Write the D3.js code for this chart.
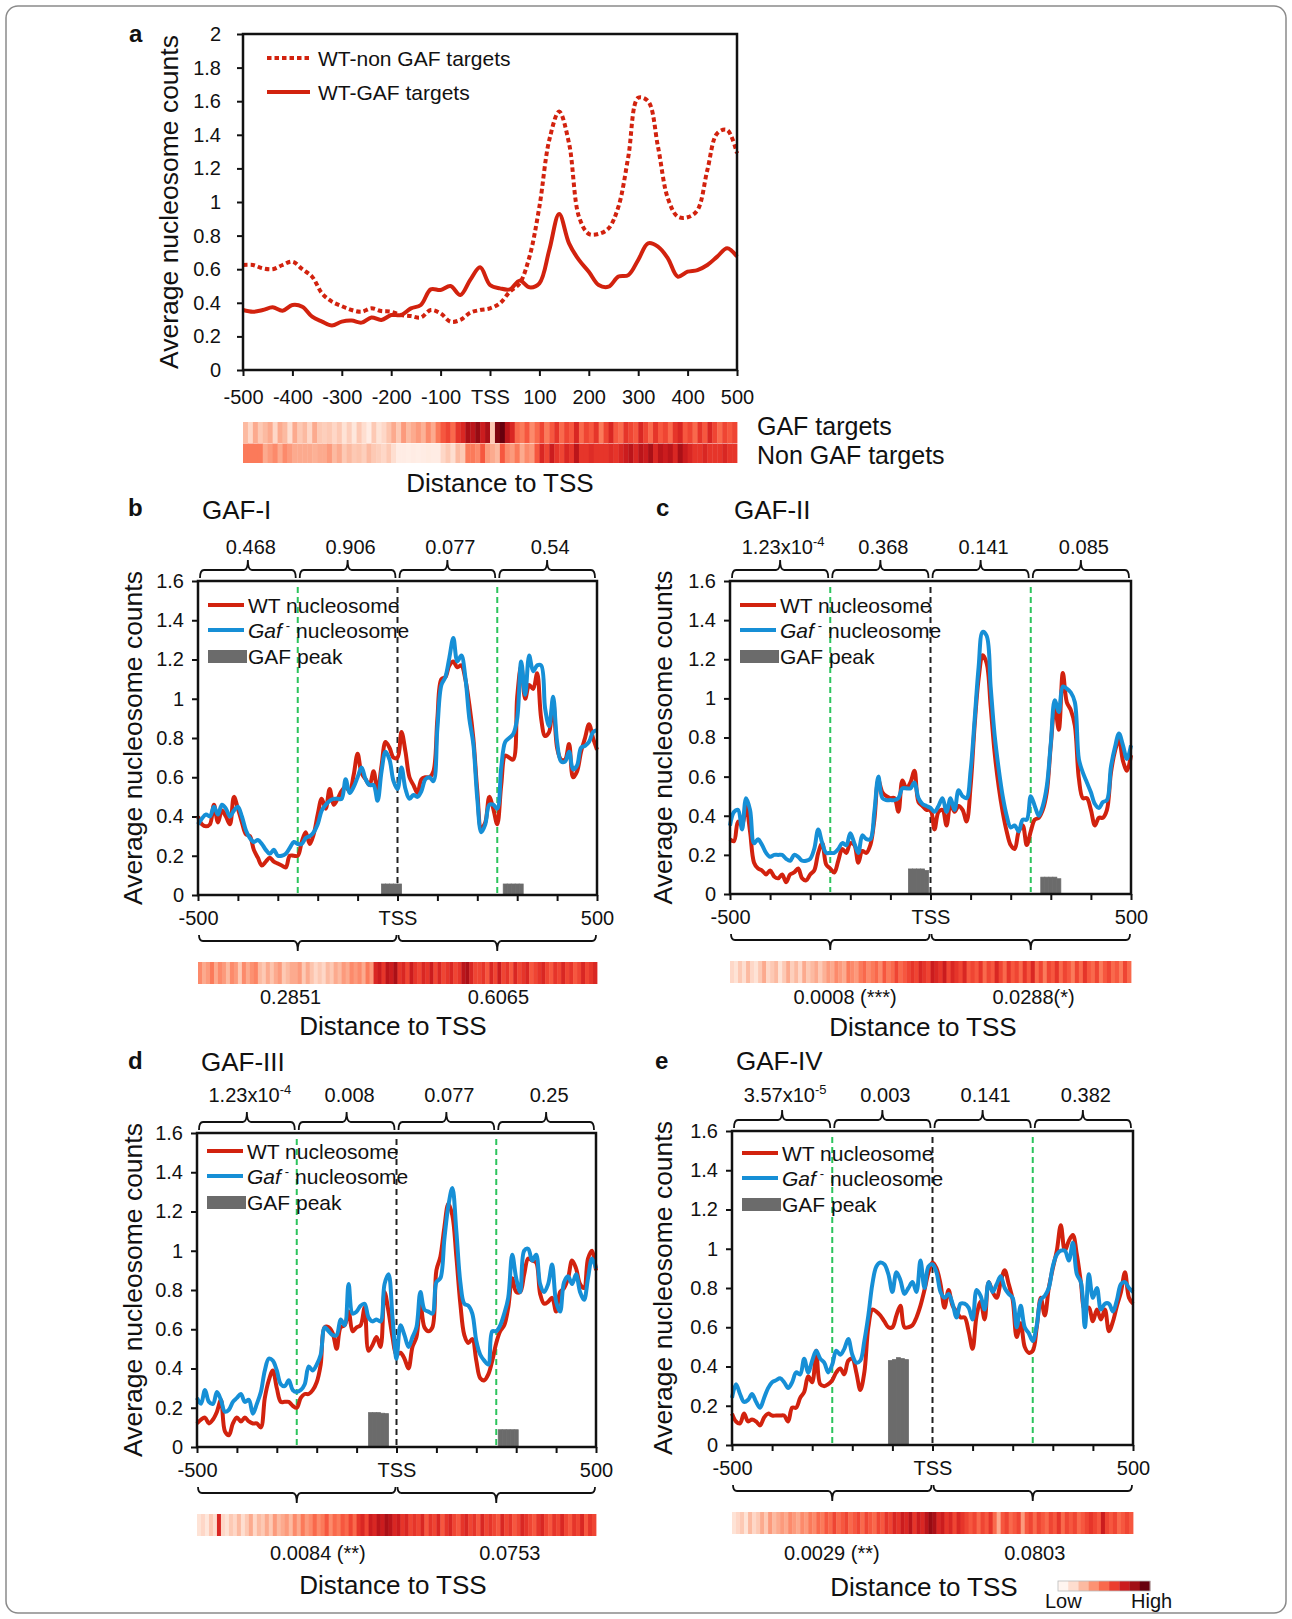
<!DOCTYPE html>
<html>
<head>
<meta charset="utf-8">
<script src="https://cdn.jsdelivr.net/npm/d3@7"></script>
<style>
  body { margin: 0; background: #fff; }
  svg { display: block; font-family: "Liberation Sans", Arial, sans-serif; }
</style>
</head>
<body>
<svg id="fig" width="1292" height="1619"></svg>
<script>
// ---- data ----
const xs20 = d3.range(-500, 501, 20)
const xs10 = d3.range(-500, 501, 10)

// panel a: average nucleosome counts, step 20 bp
const aNonGaf = [0.625, 0.625, 0.605, 0.60, 0.625, 0.645, 0.60, 0.555, 0.456, 0.407, 0.38, 0.357, 0.347, 0.367, 0.351, 0.347, 0.327, 0.321, 0.313, 0.357, 0.337, 0.288, 0.298, 0.341, 0.357, 0.367, 0.397, 0.466, 0.516, 0.675, 0.972, 1.369, 1.538, 1.349, 0.913, 0.81, 0.81, 0.843, 0.972, 1.27, 1.62, 1.60, 1.33, 1.022, 0.913, 0.909, 0.952, 1.19, 1.409, 1.429, 1.29]
const aGaf = [0.357, 0.347, 0.357, 0.373, 0.353, 0.387, 0.377, 0.317, 0.288, 0.265, 0.288, 0.294, 0.282, 0.313, 0.298, 0.327, 0.327, 0.367, 0.387, 0.48, 0.476, 0.50, 0.446, 0.536, 0.611, 0.506, 0.486, 0.48, 0.532, 0.492, 0.516, 0.714, 0.929, 0.754, 0.655, 0.585, 0.506, 0.496, 0.556, 0.565, 0.655, 0.754, 0.734, 0.665, 0.556, 0.585, 0.595, 0.625, 0.675, 0.724, 0.675]
const aStripGaf = [0.25, 0.15, 0.3, 0.2, 0.25, 0.3, 0.15, 0.3, 0.25, 0.12, 0.3, 0.2, 0.25, 0.15, 0.3, 0.2, 0.18, 0.2, 0.15, 0.2, 0.1, 0.18, 0.08, 0.2, 0.12, 0.05, 0.2, 0.1, 0.15, 0.22, 0.3, 0.2, 0.35, 0.25, 0.3, 0.35, 0.28, 0.4, 0.3, 0.45, 0.55, 0.6, 0.5, 0.65, 0.7, 0.85, 0.8, 0.9, 0.75, 0.85, 0.2, 0.95, 1.0, 0.8, 0.7, 0.5, 0.45, 0.55, 0.4, 0.5, 0.6, 0.45, 0.55, 0.65, 0.5, 0.6, 0.55, 0.7, 0.5, 0.6, 0.55, 0.65, 0.45, 0.6, 0.7, 0.55, 0.5, 0.65, 0.6, 0.55, 0.7, 0.6, 0.5, 0.65, 0.55, 0.6, 0.5, 0.65, 0.7, 0.55, 0.6, 0.5, 0.65, 0.55, 0.7, 0.6, 0.5, 0.6, 0.55, 0.6]
const aStripNonGaf = [0.45, 0.45, 0.45, 0.45, 0.3, 0.35, 0.4, 0.3, 0.4, 0.35, 0.3, 0.3, 0.3, 0.3, 0.28, 0.3, 0.3, 0.35, 0.25, 0.3, 0.2, 0.25, 0.2, 0.22, 0.18, 0.25, 0.2, 0.18, 0.15, 0.2, 0.12, 0.05, 0.05, 0.04, 0.05, 0.04, 0.05, 0.06, 0.05, 0.05, 0.15, 0.2, 0.12, 0.25, 0.2, 0.45, 0.45, 0.4, 0.55, 0.35, 0.3, 0.25, 0.55, 0.4, 0.35, 0.45, 0.3, 0.4, 0.35, 0.55, 0.7, 0.6, 0.75, 0.65, 0.6, 0.7, 0.65, 0.8, 0.65, 0.65, 0.68, 0.65, 0.65, 0.65, 0.68, 0.65, 0.7, 0.75, 0.8, 0.7, 0.8, 0.75, 0.85, 0.7, 0.8, 0.75, 0.8, 0.7, 0.85, 0.75, 0.7, 0.65, 0.65, 0.7, 0.65, 0.65, 0.65, 0.7, 0.65, 0.65]

// panels b-e: WT and Gaf- nucleosome counts, step 10 bp
const bWT = [0.40, 0.36, 0.35, 0.36, 0.46, 0.37, 0.43, 0.40, 0.36, 0.50, 0.44, 0.37, 0.31, 0.30, 0.23, 0.19, 0.15, 0.17, 0.19, 0.17, 0.16, 0.15, 0.14, 0.20, 0.20, 0.20, 0.27, 0.32, 0.26, 0.31, 0.41, 0.49, 0.44, 0.54, 0.46, 0.49, 0.53, 0.55, 0.53, 0.61, 0.72, 0.62, 0.59, 0.56, 0.63, 0.53, 0.66, 0.78, 0.75, 0.70, 0.70, 0.83, 0.73, 0.60, 0.56, 0.52, 0.59, 0.60, 0.60, 0.63, 0.90, 1.10, 1.11, 1.17, 1.19, 1.16, 1.17, 1.10, 0.97, 0.80, 0.53, 0.34, 0.37, 0.50, 0.44, 0.36, 0.56, 0.71, 0.70, 0.69, 1.01, 1.17, 1.00, 1.07, 1.05, 1.13, 0.90, 0.81, 0.83, 0.99, 0.75, 0.69, 0.69, 0.77, 0.60, 0.63, 0.73, 0.80, 0.87, 0.80, 0.74]
const bGaf = [0.36, 0.39, 0.41, 0.40, 0.45, 0.41, 0.46, 0.44, 0.40, 0.43, 0.45, 0.40, 0.33, 0.29, 0.27, 0.28, 0.26, 0.23, 0.21, 0.23, 0.20, 0.20, 0.21, 0.24, 0.27, 0.26, 0.26, 0.29, 0.30, 0.32, 0.36, 0.43, 0.46, 0.48, 0.49, 0.49, 0.49, 0.59, 0.52, 0.55, 0.60, 0.65, 0.59, 0.56, 0.56, 0.48, 0.63, 0.73, 0.69, 0.58, 0.54, 0.65, 0.54, 0.49, 0.51, 0.50, 0.53, 0.59, 0.60, 0.58, 0.85, 1.07, 1.11, 1.21, 1.31, 1.19, 1.22, 1.11, 0.90, 0.77, 0.49, 0.32, 0.36, 0.46, 0.46, 0.44, 0.65, 0.78, 0.80, 0.82, 0.90, 1.19, 1.02, 1.22, 1.14, 1.17, 1.17, 0.95, 0.86, 1.01, 0.78, 0.68, 0.68, 0.73, 0.64, 0.66, 0.75, 0.76, 0.78, 0.83, 0.84]
const cWT = [0.28, 0.27, 0.37, 0.35, 0.45, 0.32, 0.16, 0.13, 0.12, 0.10, 0.12, 0.09, 0.08, 0.10, 0.06, 0.10, 0.11, 0.13, 0.08, 0.07, 0.10, 0.12, 0.21, 0.26, 0.15, 0.13, 0.11, 0.17, 0.23, 0.21, 0.26, 0.25, 0.16, 0.22, 0.21, 0.25, 0.38, 0.58, 0.52, 0.50, 0.49, 0.49, 0.42, 0.58, 0.54, 0.57, 0.63, 0.47, 0.45, 0.43, 0.43, 0.33, 0.42, 0.43, 0.35, 0.46, 0.42, 0.45, 0.43, 0.37, 0.55, 0.86, 1.10, 1.22, 1.18, 0.96, 0.72, 0.55, 0.42, 0.32, 0.25, 0.23, 0.32, 0.35, 0.25, 0.32, 0.38, 0.39, 0.43, 0.52, 0.76, 0.96, 0.84, 1.13, 0.98, 0.94, 0.86, 0.59, 0.49, 0.49, 0.43, 0.35, 0.39, 0.39, 0.43, 0.62, 0.73, 0.79, 0.68, 0.63, 0.71]
const cGaf = [0.35, 0.42, 0.43, 0.33, 0.49, 0.43, 0.26, 0.28, 0.25, 0.21, 0.19, 0.20, 0.20, 0.20, 0.18, 0.17, 0.20, 0.19, 0.17, 0.17, 0.18, 0.23, 0.33, 0.26, 0.21, 0.21, 0.21, 0.23, 0.26, 0.25, 0.31, 0.26, 0.21, 0.30, 0.28, 0.28, 0.42, 0.60, 0.49, 0.48, 0.48, 0.48, 0.49, 0.54, 0.54, 0.54, 0.57, 0.49, 0.46, 0.45, 0.44, 0.42, 0.45, 0.49, 0.42, 0.49, 0.43, 0.53, 0.50, 0.49, 0.63, 0.89, 1.16, 1.34, 1.32, 1.06, 0.81, 0.64, 0.50, 0.40, 0.34, 0.35, 0.32, 0.38, 0.38, 0.50, 0.45, 0.40, 0.45, 0.55, 0.77, 0.99, 0.93, 1.06, 1.05, 1.03, 0.98, 0.69, 0.62, 0.57, 0.52, 0.46, 0.44, 0.47, 0.48, 0.65, 0.75, 0.82, 0.76, 0.69, 0.76]
const dWT = [0.12, 0.14, 0.15, 0.12, 0.14, 0.18, 0.24, 0.08, 0.06, 0.12, 0.15, 0.13, 0.15, 0.13, 0.12, 0.12, 0.10, 0.25, 0.34, 0.39, 0.30, 0.23, 0.23, 0.23, 0.21, 0.20, 0.25, 0.27, 0.27, 0.29, 0.33, 0.42, 0.61, 0.61, 0.58, 0.50, 0.61, 0.62, 0.69, 0.59, 0.61, 0.62, 0.71, 0.49, 0.52, 0.56, 0.51, 0.79, 0.69, 0.56, 0.47, 0.48, 0.45, 0.40, 0.51, 0.56, 0.73, 0.61, 0.59, 0.61, 0.90, 0.97, 1.12, 1.24, 1.18, 0.97, 0.73, 0.57, 0.53, 0.55, 0.44, 0.35, 0.34, 0.37, 0.44, 0.53, 0.59, 0.62, 0.71, 0.86, 0.79, 0.79, 0.88, 0.96, 0.95, 0.94, 0.78, 0.73, 0.74, 0.76, 0.69, 0.79, 0.81, 0.86, 0.95, 0.91, 0.83, 0.81, 0.96, 1.00, 0.90]
const dGaf = [0.25, 0.22, 0.29, 0.23, 0.22, 0.28, 0.24, 0.18, 0.19, 0.23, 0.25, 0.27, 0.23, 0.24, 0.17, 0.22, 0.28, 0.39, 0.45, 0.44, 0.39, 0.32, 0.31, 0.34, 0.29, 0.28, 0.29, 0.32, 0.41, 0.39, 0.42, 0.47, 0.61, 0.59, 0.57, 0.57, 0.65, 0.62, 0.83, 0.68, 0.69, 0.72, 0.73, 0.66, 0.64, 0.65, 0.64, 0.83, 0.88, 0.66, 0.45, 0.62, 0.57, 0.51, 0.56, 0.61, 0.79, 0.70, 0.69, 0.68, 0.84, 0.86, 1.06, 1.23, 1.32, 1.10, 0.84, 0.73, 0.72, 0.68, 0.54, 0.47, 0.44, 0.42, 0.59, 0.59, 0.62, 0.68, 0.76, 0.98, 0.86, 0.79, 1.00, 1.01, 0.95, 0.98, 0.83, 0.79, 0.83, 0.93, 0.74, 0.69, 0.84, 0.87, 0.83, 0.88, 0.79, 0.75, 0.86, 0.96, 0.91]
const eWT = [0.16, 0.12, 0.11, 0.16, 0.12, 0.13, 0.12, 0.10, 0.14, 0.16, 0.15, 0.15, 0.15, 0.15, 0.12, 0.19, 0.19, 0.24, 0.27, 0.35, 0.32, 0.48, 0.31, 0.30, 0.31, 0.33, 0.37, 0.39, 0.36, 0.43, 0.44, 0.37, 0.28, 0.37, 0.60, 0.69, 0.68, 0.66, 0.63, 0.60, 0.60, 0.66, 0.71, 0.60, 0.60, 0.61, 0.65, 0.71, 0.79, 0.88, 0.93, 0.90, 0.82, 0.70, 0.79, 0.71, 0.68, 0.65, 0.65, 0.58, 0.49, 0.66, 0.73, 0.64, 0.83, 0.78, 0.75, 0.83, 0.89, 0.82, 0.74, 0.55, 0.62, 0.50, 0.47, 0.48, 0.60, 0.75, 0.66, 0.80, 0.90, 0.99, 1.12, 0.99, 1.04, 1.07, 0.97, 0.83, 0.69, 0.70, 0.63, 0.69, 0.64, 0.69, 0.58, 0.63, 0.71, 0.78, 0.88, 0.75, 0.72]
const eGaf = [0.24, 0.31, 0.26, 0.22, 0.23, 0.26, 0.22, 0.19, 0.24, 0.29, 0.32, 0.33, 0.34, 0.32, 0.29, 0.32, 0.37, 0.36, 0.44, 0.37, 0.43, 0.48, 0.44, 0.42, 0.37, 0.41, 0.48, 0.46, 0.49, 0.54, 0.46, 0.42, 0.43, 0.53, 0.66, 0.82, 0.91, 0.93, 0.92, 0.87, 0.78, 0.88, 0.84, 0.77, 0.80, 0.83, 0.78, 0.94, 0.80, 0.91, 0.92, 0.88, 0.78, 0.75, 0.77, 0.72, 0.65, 0.72, 0.72, 0.70, 0.64, 0.79, 0.76, 0.69, 0.83, 0.78, 0.82, 0.86, 0.80, 0.77, 0.75, 0.60, 0.71, 0.60, 0.57, 0.53, 0.61, 0.74, 0.76, 0.80, 0.91, 0.97, 0.99, 0.99, 0.94, 1.03, 0.87, 0.83, 0.60, 0.87, 0.75, 0.80, 0.69, 0.72, 0.72, 0.68, 0.74, 0.82, 0.83, 0.80, 0.78]

// GAF peak bins (10 bp wide, centre positions) and heights
const bPeakX = [-35, -25, -15, -5, 5, 270, 280, 290, 300, 310]
const bPeakH = [0.056, 0.056, 0.056, 0.056, 0.056, 0.056, 0.056, 0.056, 0.056, 0.056]
const cPeakX = [-50, -40, -30, -20, -10, 280, 290, 300, 310, 320]
const cPeakH = [0.128, 0.128, 0.128, 0.128, 0.12, 0.086, 0.086, 0.086, 0.086, 0.078]
const dPeakX = [-65, -55, -45, -35, -25, 260, 270, 280, 290, 300]
const dPeakH = [0.175, 0.175, 0.175, 0.172, 0.17, 0.088, 0.088, 0.088, 0.088, 0.088]
const ePeakX = [-105, -95, -85, -75, -65]
const ePeakH = [0.43, 0.435, 0.445, 0.44, 0.435]

// heat strips (relative intensity, 10 bp bins)
const bStrip = [0.4, 0.3, 0.35, 0.45, 0.3, 0.4, 0.35, 0.25, 0.4, 0.35, 0.2, 0.4, 0.3, 0.38, 0.42, 0.25, 0.2, 0.3, 0.22, 0.3, 0.35, 0.2, 0.25, 0.3, 0.3, 0.35, 0.2, 0.3, 0.22, 0.15, 0.2, 0.15, 0.25, 0.2, 0.3, 0.25, 0.35, 0.3, 0.4, 0.35, 0.4, 0.3, 0.45, 0.35, 0.7, 0.75, 0.65, 0.8, 0.75, 0.85, 0.65, 0.7, 0.6, 0.75, 0.65, 0.6, 0.7, 0.65, 0.75, 0.6, 0.7, 0.6, 0.65, 0.7, 0.6, 0.65, 0.8, 0.85, 0.7, 0.6, 0.6, 0.65, 0.55, 0.7, 0.6, 0.75, 0.6, 0.65, 0.55, 0.7, 0.6, 0.65, 0.7, 0.55, 0.6, 0.65, 0.7, 0.6, 0.55, 0.65, 0.6, 0.7, 0.6, 0.65, 0.55, 0.6, 0.7, 0.6, 0.65, 0.7]
const cStrip = [0.15, 0.1, 0.2, 0.12, 0.25, 0.15, 0.1, 0.2, 0.3, 0.15, 0.2, 0.25, 0.1, 0.2, 0.3, 0.18, 0.25, 0.15, 0.3, 0.2, 0.25, 0.3, 0.2, 0.28, 0.35, 0.3, 0.4, 0.35, 0.3, 0.45, 0.4, 0.35, 0.45, 0.5, 0.4, 0.45, 0.5, 0.4, 0.55, 0.45, 0.5, 0.6, 0.5, 0.55, 0.6, 0.65, 0.6, 0.7, 0.65, 0.6, 0.75, 0.7, 0.65, 0.75, 0.6, 0.7, 0.65, 0.6, 0.7, 0.55, 0.6, 0.55, 0.65, 0.5, 0.6, 0.55, 0.7, 0.6, 0.5, 0.65, 0.55, 0.6, 0.5, 0.65, 0.55, 0.7, 0.5, 0.6, 0.45, 0.6, 0.55, 0.65, 0.5, 0.6, 0.55, 0.45, 0.6, 0.5, 0.65, 0.55, 0.5, 0.6, 0.45, 0.55, 0.6, 0.5, 0.55, 0.45, 0.6, 0.5]
const dStrip = [0.1, 0.15, 0.08, 0.2, 0.12, 0.7, 0.15, 0.1, 0.2, 0.15, 0.25, 0.12, 0.2, 0.3, 0.15, 0.25, 0.2, 0.3, 0.2, 0.35, 0.25, 0.3, 0.35, 0.25, 0.4, 0.3, 0.45, 0.35, 0.4, 0.5, 0.4, 0.45, 0.55, 0.4, 0.5, 0.45, 0.55, 0.5, 0.6, 0.5, 0.65, 0.7, 0.6, 0.75, 0.7, 0.8, 0.75, 0.85, 0.8, 0.7, 0.75, 0.65, 0.7, 0.6, 0.65, 0.6, 0.7, 0.55, 0.65, 0.6, 0.7, 0.55, 0.65, 0.7, 0.6, 0.55, 0.65, 0.7, 0.6, 0.65, 0.55, 0.7, 0.6, 0.65, 0.6, 0.55, 0.7, 0.6, 0.65, 0.55, 0.6, 0.7, 0.65, 0.6, 0.55, 0.65, 0.7, 0.6, 0.55, 0.65, 0.6, 0.7, 0.6, 0.55, 0.65, 0.6, 0.7, 0.55, 0.65, 0.6]
const eStrip = [0.1, 0.15, 0.2, 0.1, 0.25, 0.15, 0.2, 0.3, 0.2, 0.35, 0.25, 0.3, 0.35, 0.3, 0.4, 0.35, 0.3, 0.4, 0.35, 0.45, 0.4, 0.5, 0.45, 0.55, 0.5, 0.6, 0.5, 0.55, 0.6, 0.5, 0.55, 0.6, 0.5, 0.6, 0.55, 0.5, 0.6, 0.55, 0.65, 0.6, 0.7, 0.65, 0.75, 0.7, 0.8, 0.65, 0.75, 0.7, 0.8, 0.9, 0.85, 0.7, 0.75, 0.65, 0.7, 0.6, 0.7, 0.65, 0.6, 0.55, 0.6, 0.5, 0.6, 0.55, 0.65, 0.5, 0.3, 0.55, 0.6, 0.5, 0.55, 0.6, 0.35, 0.55, 0.6, 0.5, 0.6, 0.55, 0.5, 0.6, 0.55, 0.65, 0.5, 0.6, 0.55, 0.6, 0.5, 0.55, 0.6, 0.65, 0.6, 0.55, 0.75, 0.6, 0.55, 0.6, 0.5, 0.55, 0.6, 0.55]

// p-values: four quarters on top, two halves below
const bTopP = ['0.468', '0.906', '0.077', '0.54']
const cTopP = ['1.23x10^-4', '0.368', '0.141', '0.085']
const dTopP = ['1.23x10^-4', '0.008', '0.077', '0.25']
const eTopP = ['3.57x10^-5', '0.003', '0.141', '0.382']
const bBottomP = ['0.2851', '0.6065']
const cBottomP = ['0.0008 (***)', '0.0288(*)']
const dBottomP = ['0.0084 (**)', '0.0753']
const eBottomP = ['0.0029 (**)', '0.0803']

const legendSteps = [0, 0.125, 0.25, 0.375, 0.5, 0.625, 0.75, 0.875, 1]

// ---- drawing ----
const RED = '#d2220e'
const BLUE = '#168fd6'
const GREEN = '#2cc45c'
const GREY = '#6b6b6b'
const INK = '#111'
const FONT = '"Liberation Sans", Arial, sans-serif'
const LW = 4
const heat = d3.scaleSequential(d3.interpolateReds).domain([0, 1])
const fmtY = d => String(+d.toFixed(1))

const svg = d3.select('#fig')
svg.append('rect').attr('width', 1292).attr('height', 1619).attr('fill', '#fff')
svg.append('rect')
  .attr('x', 6).attr('y', 6).attr('width', 1280).attr('height', 1607).attr('rx', 12)
  .attr('fill', 'none').attr('stroke', '#8a8a8a').attr('stroke-width', 1.5)

function label (g, x, y, str, size, anchor, extra) {
  let t = g.append('text').attr('x', x).attr('y', y)
    .attr('font-size', size).attr('fill', INK).attr('text-anchor', anchor || 'start')
  if (extra) extra(t)
  else t.text(str)
  return t
}

// text with an optional "^exponent" part
function sciText (t, s) {
  let m = s.match(/^(.*)\^(.*)$/)
  if (!m) { t.text(s); return }
  t.append('tspan').text(m[1])
  t.append('tspan').attr('dy', -8).attr('font-size', 13).text(m[2])
}

function styleAxis (sel, size) {
  sel.attr('font-family', FONT).attr('font-size', size)
  sel.select('.domain').remove()
  sel.selectAll('.tick line').attr('stroke', INK).attr('stroke-width', 2)
  sel.selectAll('.tick text').attr('fill', INK)
}

function brace (x0, x1, yEnd, yBar, yTip) {
  let xm = (x0 + x1) / 2
  let r = 4
  return `M${x0},${yEnd} Q${x0},${yBar} ${x0 + r},${yBar} L${xm - r},${yBar} ` +
    `Q${xm},${yBar} ${xm},${yTip} Q${xm},${yBar} ${xm + r},${yBar} ` +
    `L${x1 - r},${yBar} Q${x1},${yBar} ${x1},${yEnd}`
}

function strip (g, x, arr, y0, y1) {
  let n = arr.length
  let w = 1000 / n
  g.append('g').selectAll('rect').data(arr).join('rect')
    .attr('x', (d, i) => x(-500 + i * w))
    .attr('width', (d, i) => x(-500 + (i + 1) * w) - x(-500 + i * w) + 0.4)
    .attr('y', y0).attr('height', y1 - y0)
    .attr('fill', d => heat(d))
}

// ---------- panel a ----------
function drawPanelA () {
  const L = 243, R = 737, T = 34, B = 370
  const x = d3.scaleLinear().domain([-500, 500]).range([L, R])
  const y = d3.scaleLinear().domain([0, 2]).range([B, T])
  const g = svg.append('g')

  g.append('g').attr('transform', `translate(0,${B})`)
    .call(d3.axisBottom(x).tickValues(d3.range(-500, 501, 100))
      .tickFormat(d => d === 0 ? 'TSS' : d).tickSize(6).tickSizeOuter(0).tickPadding(14))
    .call(s => styleAxis(s, 20))
  g.append('g').attr('transform', `translate(${L},0)`)
    .call(d3.axisLeft(y).tickValues(d3.range(0, 2.01, 0.2)).tickFormat(fmtY)
      .tickSize(6).tickSizeOuter(0).tickPadding(16))
    .call(s => styleAxis(s, 20))

  const line = d3.line().x((d, i) => x(xs20[i])).y(d => y(d)).curve(d3.curveCatmullRom.alpha(0.5))
  g.append('path').attr('d', line(aNonGaf)).attr('fill', 'none')
    .attr('stroke', RED).attr('stroke-width', LW).attr('stroke-dasharray', '4.5,3')
  g.append('path').attr('d', line(aGaf)).attr('fill', 'none')
    .attr('stroke', RED).attr('stroke-width', LW)

  g.append('rect').attr('x', L).attr('y', T).attr('width', R - L).attr('height', B - T)
    .attr('fill', 'none').attr('stroke', INK).attr('stroke-width', 2.5)

  // legend
  g.append('line').attr('x1', 267).attr('x2', 310).attr('y1', 58).attr('y2', 58)
    .attr('stroke', RED).attr('stroke-width', LW).attr('stroke-dasharray', '4.5,3')
  g.append('line').attr('x1', 267).attr('x2', 310).attr('y1', 92).attr('y2', 92)
    .attr('stroke', RED).attr('stroke-width', LW)
  label(g, 318, 65.5, 'WT-non GAF targets', 21)
  label(g, 318, 99.5, 'WT-GAF targets', 21)

  label(g, 129, 42, 'a', 24).attr('font-weight', 'bold')
  label(g, 0, 0, 'Average nucleosome counts', 26.5, 'middle')
    .attr('transform', `translate(178,${(T + B) / 2}) rotate(-90)`)

  strip(g, x, aStripGaf, 422, 443)
  strip(g, x, aStripNonGaf, 443.5, 463)
  label(g, 757, 435, 'GAF targets', 25)
  label(g, 757, 464, 'Non GAF targets', 25)
  label(g, 500, 492, 'Distance to TSS', 26, 'middle')
}

// ---------- panels b-e ----------
const panels = [
  { letter: 'b', title: 'GAF-I', L: 198, R: 597, T: 581, B: 895, lx: 128, ly: 516, ty: 519, ylabX: 142,
    topY: 554, legDy: 24, pDy: 109, distDy: 140, distX: 393, pAt: [-268, 253],
    wt: bWT, gaf: bGaf, px: bPeakX, ph: bPeakH, strip: bStrip, topP: bTopP, botP: bBottomP },
  { letter: 'c', title: 'GAF-II', L: 730, R: 1131, T: 581, B: 894, lx: 656, ly: 516, ty: 519, ylabX: 672,
    topY: 554, legDy: 24, pDy: 110, distDy: 142, distX: 923, pAt: [-213, 257],
    wt: cWT, gaf: cGaf, px: cPeakX, ph: cPeakH, strip: cStrip, topP: cTopP, botP: cBottomP },
  { letter: 'd', title: 'GAF-III', L: 197, R: 596, T: 1133, B: 1447, lx: 128, ly: 1069, ty: 1071, ylabX: 142,
    topY: 1102, legDy: 18, pDy: 113, distDy: 147, distX: 393, pAt: [-197, 284],
    wt: dWT, gaf: dGaf, px: dPeakX, ph: dPeakH, strip: dStrip, topP: dTopP, botP: dBottomP },
  { letter: 'e', title: 'GAF-IV', L: 732, R: 1133, T: 1131, B: 1445, lx: 655, ly: 1069, ty: 1070, ylabX: 672,
    topY: 1102, legDy: 22, pDy: 115, distDy: 151, distX: 924, pAt: [-251, 255],
    wt: eWT, gaf: eGaf, px: ePeakX, ph: ePeakH, strip: eStrip, topP: eTopP, botP: eBottomP }
]

function drawPanel (p) {
  const x = d3.scaleLinear().domain([-500, 500]).range([p.L, p.R])
  const y = d3.scaleLinear().domain([0, 1.6]).range([p.B, p.T])
  const g = svg.append('g')

  g.append('g').attr('transform', `translate(0,${p.B})`)
    .call(d3.axisBottom(x).tickValues(d3.range(-500, 501, 100))
      .tickFormat(d => d === 0 ? 'TSS' : (Math.abs(d) === 500 ? d : ''))
      .tickSize(6).tickSizeOuter(0).tickPadding(10))
    .call(s => styleAxis(s, 20))
  g.append('g').attr('transform', `translate(${p.L},0)`)
    .call(d3.axisLeft(y).tickValues(d3.range(0, 1.61, 0.2)).tickFormat(fmtY)
      .tickSize(6).tickSizeOuter(0).tickPadding(8))
    .call(s => styleAxis(s, 20))

  // region separators
  for (let v of [-250, 250]) {
    g.append('line').attr('x1', x(v)).attr('x2', x(v)).attr('y1', p.T + 6).attr('y2', p.B - 2)
      .attr('stroke', GREEN).attr('stroke-width', 2).attr('stroke-dasharray', '6,4')
  }
  g.append('line').attr('x1', x(0)).attr('x2', x(0)).attr('y1', p.T + 6).attr('y2', p.B)
    .attr('stroke', '#222').attr('stroke-width', 2).attr('stroke-dasharray', '6,4')

  // GAF peak bars
  g.append('g').selectAll('rect').data(p.px).join('rect')
    .attr('x', d => x(d - 5))
    .attr('width', d => x(d + 5) - x(d - 5))
    .attr('y', (d, i) => y(p.ph[i]))
    .attr('height', (d, i) => y(0) - y(p.ph[i]))
    .attr('fill', GREY).attr('stroke', GREY).attr('stroke-width', 0.8)

  const line = d3.line().x((d, i) => x(xs10[i])).y(d => y(d)).curve(d3.curveCatmullRom.alpha(0.5))
  g.append('path').attr('d', line(p.wt)).attr('fill', 'none')
    .attr('stroke', RED).attr('stroke-width', LW).attr('stroke-linejoin', 'round')
  g.append('path').attr('d', line(p.gaf)).attr('fill', 'none')
    .attr('stroke', BLUE).attr('stroke-width', LW).attr('stroke-linejoin', 'round')

  g.append('rect').attr('x', p.L).attr('y', p.T).attr('width', p.R - p.L).attr('height', p.B - p.T)
    .attr('fill', 'none').attr('stroke', INK).attr('stroke-width', 2.5)

  // legend
  const lx = p.L + 10
  const ly = p.T + p.legDy
  g.append('line').attr('x1', lx).attr('x2', lx + 36).attr('y1', ly).attr('y2', ly)
    .attr('stroke', RED).attr('stroke-width', 4)
  g.append('line').attr('x1', lx).attr('x2', lx + 36).attr('y1', ly + 25).attr('y2', ly + 25)
    .attr('stroke', BLUE).attr('stroke-width', 4)
  g.append('rect').attr('x', lx).attr('y', ly + 45).attr('width', 39).attr('height', 13).attr('fill', GREY)
  label(g, lx + 40, ly + 7.5, 'WT nucleosome', 21)
  label(g, lx + 40, ly + 32.5, null, 21, 'start', t => {
    t.append('tspan').attr('font-style', 'italic').text('Gaf')
    t.append('tspan').attr('dx', 4).attr('dy', -8).attr('font-size', 13).text('-')
    t.append('tspan').attr('dy', 8).text(' nucleosome')
  })
  label(g, lx + 40, ly + 58.5, 'GAF peak', 21)

  // titles
  label(g, p.lx, p.ly, p.letter, 24).attr('font-weight', 'bold')
  label(g, p.L + 4, p.ty, p.title, 26)
  label(g, 0, 0, 'Average nucleosome counts', 26.5, 'middle')
    .attr('transform', `translate(${p.ylabX},${(p.T + p.B) / 2}) rotate(-90)`)

  // top braces and p-values
  const quarters = [[-500, -250], [-250, 0], [0, 250], [250, 500]]
  quarters.forEach((q, i) => {
    g.append('path').attr('d', brace(x(q[0]) + 2, x(q[1]) - 2, p.T - 3, p.T - 11, p.T - 21))
      .attr('fill', 'none').attr('stroke', INK).attr('stroke-width', 1.8)
    label(g, x((q[0] + q[1]) / 2) + 3, p.topY, null, 20, 'middle', t => sciText(t, p.topP[i]))
  })

  // bottom braces, heat strip and p-values
  const halves = [[-500, 0], [0, 500]]
  halves.forEach((h, i) => {
    g.append('path').attr('d', brace(x(h[0]) + 1, x(h[1]) - 1, p.B + 40, p.B + 46, p.B + 56))
      .attr('fill', 'none').attr('stroke', INK).attr('stroke-width', 1.8)
    label(g, x(p.pAt[i]), p.B + p.pDy, p.botP[i], 20, 'middle')
  })
  strip(g, x, p.strip, p.B + 67, p.B + 89)
  label(g, p.distX, p.B + p.distDy, 'Distance to TSS', 26, 'middle')
}

drawPanelA()
panels.forEach(drawPanel)

// colour key
const key = svg.append('g')
const kx = d3.scaleBand().domain(d3.range(legendSteps.length)).range([1058, 1150])
key.selectAll('rect').data(legendSteps).join('rect')
  .attr('x', (d, i) => kx(i)).attr('width', kx.bandwidth() + 0.3)
  .attr('y', 1581).attr('height', 10).attr('fill', d => heat(d))
key.append('rect').attr('x', 1058).attr('y', 1581).attr('width', 92).attr('height', 10)
  .attr('fill', 'none').attr('stroke', '#bbb').attr('stroke-width', 0.8)
label(key, 1045, 1608, 'Low', 20)
label(key, 1131, 1608, 'High', 20)
</script>
</body>
</html>
